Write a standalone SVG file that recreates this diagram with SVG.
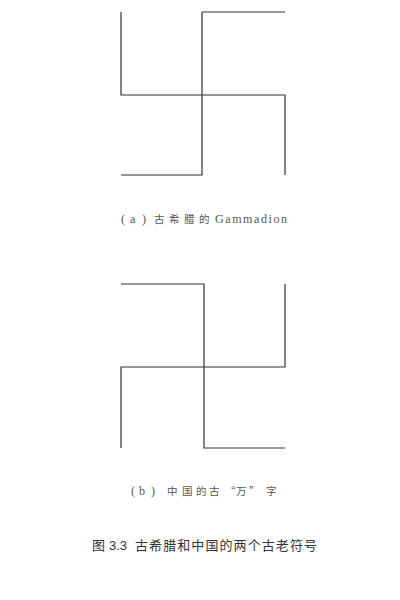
<svg xmlns="http://www.w3.org/2000/svg" width="400" height="600" viewBox="0 0 400 600">
<style>
.l{fill:none;stroke:#333;stroke-width:1.2}
.t{font-family:"Liberation Serif","Noto Sans CJK SC",serif;font-size:12px;fill:#555}
.k{font-family:"Noto Sans CJK SC",sans-serif;font-size:10.5px;fill:#555}
.c{font-family:"Liberation Sans","Noto Sans CJK SC",sans-serif;font-size:13px;fill:#333}
</style>
<rect width="400" height="600" fill="#fff"/>
<g id="gammadion">
<path class="l" d="M121,12V95H285V175M202,12H285M202,12V175H121"/>
</g>
<g id="wan">
<path class="l" d="M121,284H204V448H285M285,284V367H121V448"/>
</g>
<g id="caption-a">
<text class="t" y="223"><tspan x="121">(</tspan><tspan x="130">a</tspan><tspan x="142">)</tspan></text>
<text class="k" y="223"><tspan x="154">古</tspan><tspan x="169">希</tspan><tspan x="184">腊</tspan><tspan x="199">的</tspan></text>
<text class="t" x="215" y="223" textLength="72" lengthAdjust="spacing">Gammadion</text>
</g>
<g id="caption-b">
<text class="t" y="495"><tspan x="131">(</tspan><tspan x="139">b</tspan><tspan x="151">)</tspan></text>
<text class="k" y="495"><tspan x="167">中</tspan><tspan x="182">国</tspan><tspan x="196">的</tspan><tspan x="209">古</tspan><tspan x="225">“</tspan><tspan x="236">万</tspan><tspan x="249">”</tspan><tspan x="266">字</tspan></text>
</g>
<g id="figure-caption">
<text class="c" x="92" y="550">图</text>
<text class="c" x="109" y="550" font-size="12.5">3.3</text>
<text class="c" x="135" y="550" textLength="182" lengthAdjust="spacing">古希腊和中国的两个古老符号</text>
</g>
</svg>
